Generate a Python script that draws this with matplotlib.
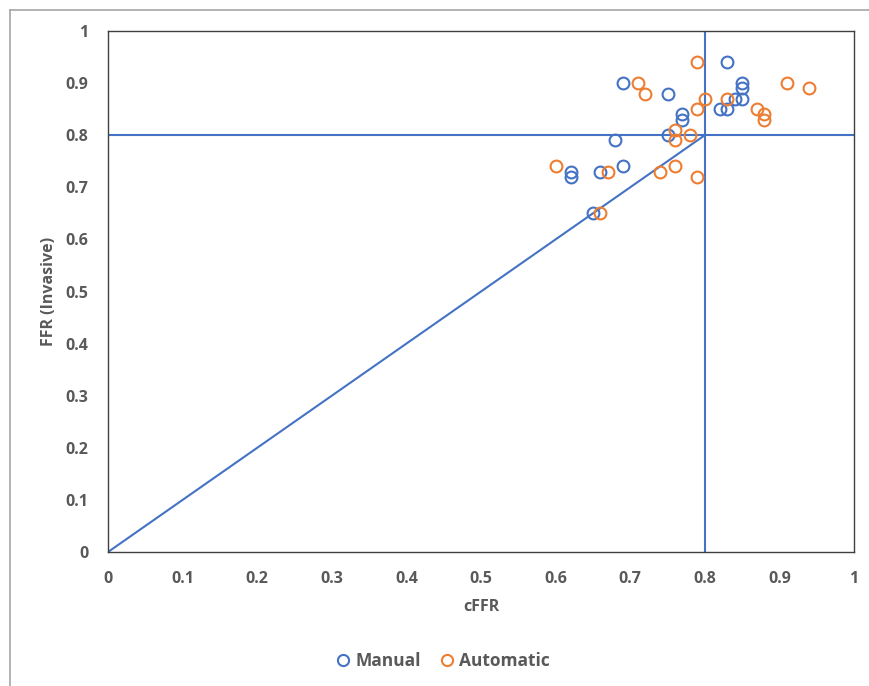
import numpy as np
import matplotlib.pyplot as plt
from matplotlib.lines import Line2D

# data
manual_x = [0.83, 0.69, 0.75, 0.85, 0.85, 0.85, 0.84, 0.82, 0.83, 0.77, 0.77,
            0.75, 0.68, 0.62, 0.62, 0.66, 0.69, 0.65]
manual_y = [0.94, 0.90, 0.88, 0.90, 0.89, 0.87, 0.87, 0.85, 0.85, 0.84, 0.83,
            0.80, 0.79, 0.73, 0.72, 0.73, 0.74, 0.65]
auto_x = [0.79, 0.71, 0.72, 0.79, 0.80, 0.83, 0.91, 0.94, 0.87, 0.88, 0.88,
          0.76, 0.76, 0.78, 0.60, 0.67, 0.74, 0.76, 0.79, 0.66]
auto_y = [0.94, 0.90, 0.88, 0.85, 0.87, 0.87, 0.90, 0.89, 0.85, 0.84, 0.83,
          0.81, 0.79, 0.80, 0.74, 0.73, 0.73, 0.74, 0.72, 0.65]
cutoff = 0.8
ticks = np.round(np.arange(0, 1.01, 0.1), 1)
tick_labels = ["0" if t == 0 else ("1" if t == 1 else f"{t:.1f}") for t in ticks]

BLUE = "#4472C4"
ORANGE = "#ED7D31"
GREY = "#595959"

plt.rcParams["font.family"] = ["Open Sans", "DejaVu Sans"]

fig = plt.figure(figsize=(8.69, 6.86), dpi=100)
# outer frame: only top and left edges visible
fig.add_artist(Line2D([10 / 869, 1], [1 - 10 / 686, 1 - 10 / 686], transform=fig.transFigure,
                      color="#a6a6a6", lw=1.2))
fig.add_artist(Line2D([10 / 869, 10 / 869], [0, 1 - 10 / 686], transform=fig.transFigure,
                      color="#a6a6a6", lw=1.2))
ax = fig.add_axes([108 / 869, 1 - 552 / 686, 746 / 869, 521 / 686])

ax.axhline(cutoff, color=BLUE, lw=1.5, zorder=1)
ax.axvline(cutoff, color=BLUE, lw=1.5, zorder=1)
ax.plot([0, cutoff], [0, cutoff], color=BLUE, lw=1.5, zorder=1)

ax.plot(manual_x, manual_y, "o", mfc="none", mec=BLUE, mew=1.5, ms=8.5, ls="none", zorder=3)
ax.plot(auto_x, auto_y, "o", mfc="none", mec=ORANGE, mew=1.5, ms=8.5, ls="none", zorder=3)

ax.set_xlim(0, 1); ax.set_ylim(0, 1)
ax.set_xticks(ticks); ax.set_xticklabels(tick_labels)
ax.set_yticks(ticks); ax.set_yticklabels(tick_labels)
ax.tick_params(length=0, labelsize=11.5, labelcolor=GREY, pad=14)
for lab in ax.get_xticklabels() + ax.get_yticklabels():
    lab.set_fontweight("bold")
for s in ax.spines.values():
    s.set_color("#404040"); s.set_linewidth(1.0)

ax.set_xlabel("cFFR", fontsize=11.5, fontweight="bold", color=GREY, labelpad=8)
ax.set_ylabel("FFR (Invasive)", fontsize=11.5, fontweight="bold", color=GREY, labelpad=6)

handles = [Line2D([], [], marker="o", ls="none", mfc="none", mec=BLUE, mew=1.5, ms=8),
           Line2D([], [], marker="o", ls="none", mfc="none", mec=ORANGE, mew=1.5, ms=8)]
leg = fig.legend(handles, ["Manual", "Automatic"], loc="center", bbox_to_anchor=(0.509, 1 - 661 / 686),
                 ncol=2, frameon=False, handletextpad=0.2, columnspacing=1.0, handlelength=1.0,
                 prop={"size": 12.5, "weight": "bold"})
for t in leg.get_texts():
    t.set_color(GREY)

fig.savefig("out.png", dpi=100)
